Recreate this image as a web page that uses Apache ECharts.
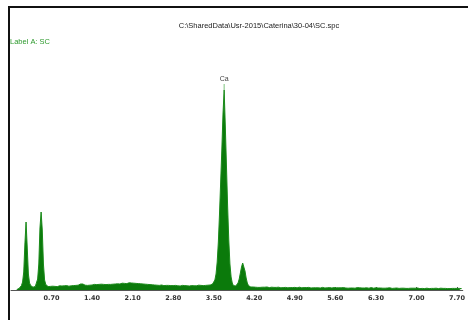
<!DOCTYPE html>
<html>
<head>
<meta charset="utf-8">
<title>SC.spc</title>
<script src="https://cdn.jsdelivr.net/npm/echarts@6/dist/echarts.min.js"></script>
<style>
    html, body { margin: 0; padding: 0; background: #fff; }
    #spectrum { width: 468px; height: 320px; }
</style>
</head>
<body>
<div id="spectrum"></div>
<script>

// Spectrum file + label
var fileName = 'C:\\SharedData\\Usr-2015\\Caterina\\30-04\\SC.spc';
var labelText = 'Label A: SC';

// Channel calibration (keV)
var startKeV = 0.10;
var stepKeV = 0.02;

// Counts per channel, 0.10 .. 7.78 keV (one row = 0.20 keV)
var counts = [
    2, 4, 8, 14, 22, 40, 90, 230, 340, 215,
    80, 35, 22, 16, 14, 15, 18, 28, 55, 130,
    310, 390, 300, 130, 50, 28, 20, 17, 16, 18,
    17, 19, 16, 18, 20, 17, 19, 21, 18, 20,
    19, 21, 18, 22, 20, 19, 23, 21, 20, 22,
    21, 23, 22, 24, 25, 30, 33, 30, 26, 24,
    25, 23, 26, 24, 27, 25, 26, 28, 25, 27,
    26, 28, 27, 29, 26, 28, 30, 27, 29, 28,
    30, 28, 31, 29, 32, 30, 28, 31, 33, 30,
    32, 34, 31, 33, 35, 32, 34, 36, 33, 35,
    37, 34, 36, 33, 35, 32, 34, 31, 33, 30,
    31, 29, 30, 28, 29, 27, 28, 26, 27, 25,
    26, 24, 25, 23, 24, 25, 23, 22, 24, 23,
    22, 23, 21, 22, 24, 22, 21, 23, 22, 21,
    22, 20, 21, 23, 21, 22, 20, 21, 22, 20,
    21, 22, 20, 21, 23, 21, 22, 24, 22, 23,
    24, 22, 25, 23, 26, 24, 27, 25, 28, 30,
    35, 50, 80, 140, 240, 380, 540, 700, 880, 1000,
    820, 620, 420, 250, 130, 65, 35, 22, 18, 20,
    25, 35, 55, 85, 115, 135, 125, 95, 60, 35,
    22, 17, 15, 14, 15, 13, 14, 15, 13, 14,
    13, 15, 14, 12, 14, 13, 15, 14, 12, 13,
    14, 12, 13, 15, 13, 12, 14, 13, 11, 13,
    12, 14, 13, 12, 11, 13, 12, 14, 12, 11,
    13, 12, 11, 12, 14, 12, 11, 13, 12, 11,
    12, 11, 13, 12, 10, 12, 11, 13, 11, 12,
    11, 12, 10, 11, 13, 11, 10, 12, 11, 10,
    12, 11, 10, 11, 12, 10, 11, 13, 11, 10,
    11, 10, 12, 11, 10, 11, 9, 11, 10, 12,
    10, 11, 9, 10, 12, 10, 11, 9, 10, 11,
    10, 9, 11, 10, 9, 10, 12, 10, 9, 10,
    11, 9, 10, 8, 10, 11, 9, 10, 9, 8,
    10, 9, 11, 9, 8, 10, 9, 8, 10, 9,
    8, 10, 9, 8, 9, 10, 8, 9, 8, 10,
    9, 8, 9, 7, 9, 8, 10, 8, 7, 9,
    8, 9, 7, 8, 9, 8, 7, 9, 8, 7,
    8, 7, 9, 8, 7, 8, 9, 7, 8, 7,
    8, 9, 7, 8, 7, 9, 8, 7, 8, 7,
    8, 7, 8, 9, 7
];

// Energy axis tick labels
var xTicks = [0.70, 1.40, 2.10, 2.80, 3.50, 4.20, 4.90, 5.60, 6.30, 7.00, 7.70];

// Peak identification
var peakName = 'Ca';


// Build [keV, counts] pairs
var spectrum = counts.map(function(c, i) {
    return [+(startKeV + i * stepKeV).toFixed(2), c];
});

// Peak marker at the highest channel
var peakIdx = counts.indexOf(Math.max.apply(null, counts));

var el = document.getElementById('spectrum');
var chart = echarts.init(el);

var options = {
    animation: false,
    backgroundColor: '#fff',

    textStyle: {
        fontFamily: 'Liberation Sans, Arial, sans-serif'
    },

    // Title + label
    title: [{
        text: fileName,
        left: 259,
        top: 22,
        padding: 0,
        textAlign: 'center',
        textStyle: { fontSize: 7.5, fontWeight: 'normal', color: '#222' }
    }, {
        text: labelText,
        left: 10,
        top: 38,
        padding: 0,
        textStyle: { fontSize: 7.5, fontWeight: 'normal', color: '#2e9a2e' }
    }],

    grid: {
        left: 11,
        right: 2,
        top: 60,
        bottom: 30
    },

    xAxis: {
        type: 'value',
        min: 0,
        max: 7.8,
        axisLine: { lineStyle: { color: '#555', width: 1 } },
        axisTick: {
            customValues: xTicks,
            inside: true,
            length: 3,
            lineStyle: { color: '#555' }
        },
        axisLabel: {
            customValues: xTicks,
            formatter: function(v) { return v.toFixed(2); },
            fontFamily: 'DejaVu Sans',
            fontSize: 6.5,
            fontWeight: 'bold',
            color: '#333',
            margin: 5
        },
        splitLine: { show: false }
    },

    yAxis: {
        type: 'value',
        min: 0,
        max: 1150,
        show: false,
        splitLine: { show: false }
    },

    series: [{
        type: 'line',
        data: spectrum,
        symbol: 'none',
        lineStyle: { color: '#1a8a1a', width: 1 },
        areaStyle: { color: '#0b7a0b', opacity: 1 },
        markPoint: {
            symbol: 'rect',
            symbolSize: [1, 6],
            symbolOffset: [0, -3],
            itemStyle: { color: '#7cc27c' },
            label: {
                show: true,
                position: 'top',
                distance: 1,
                formatter: peakName,
                fontSize: 7,
                color: '#444'
            },
            data: [{ coord: spectrum[peakIdx] }]
        }
    }],

    // Window frame (left + top edge)
    graphic: [{
        type: 'rect',
        shape: { x: 8, y: 6, width: 2, height: 314 },
        style: { fill: '#111' }
    }, {
        type: 'rect',
        shape: { x: 8, y: 6, width: 460, height: 2 },
        style: { fill: '#111' }
    }]
};

chart.setOption(options);

</script>
</body>
</html>
